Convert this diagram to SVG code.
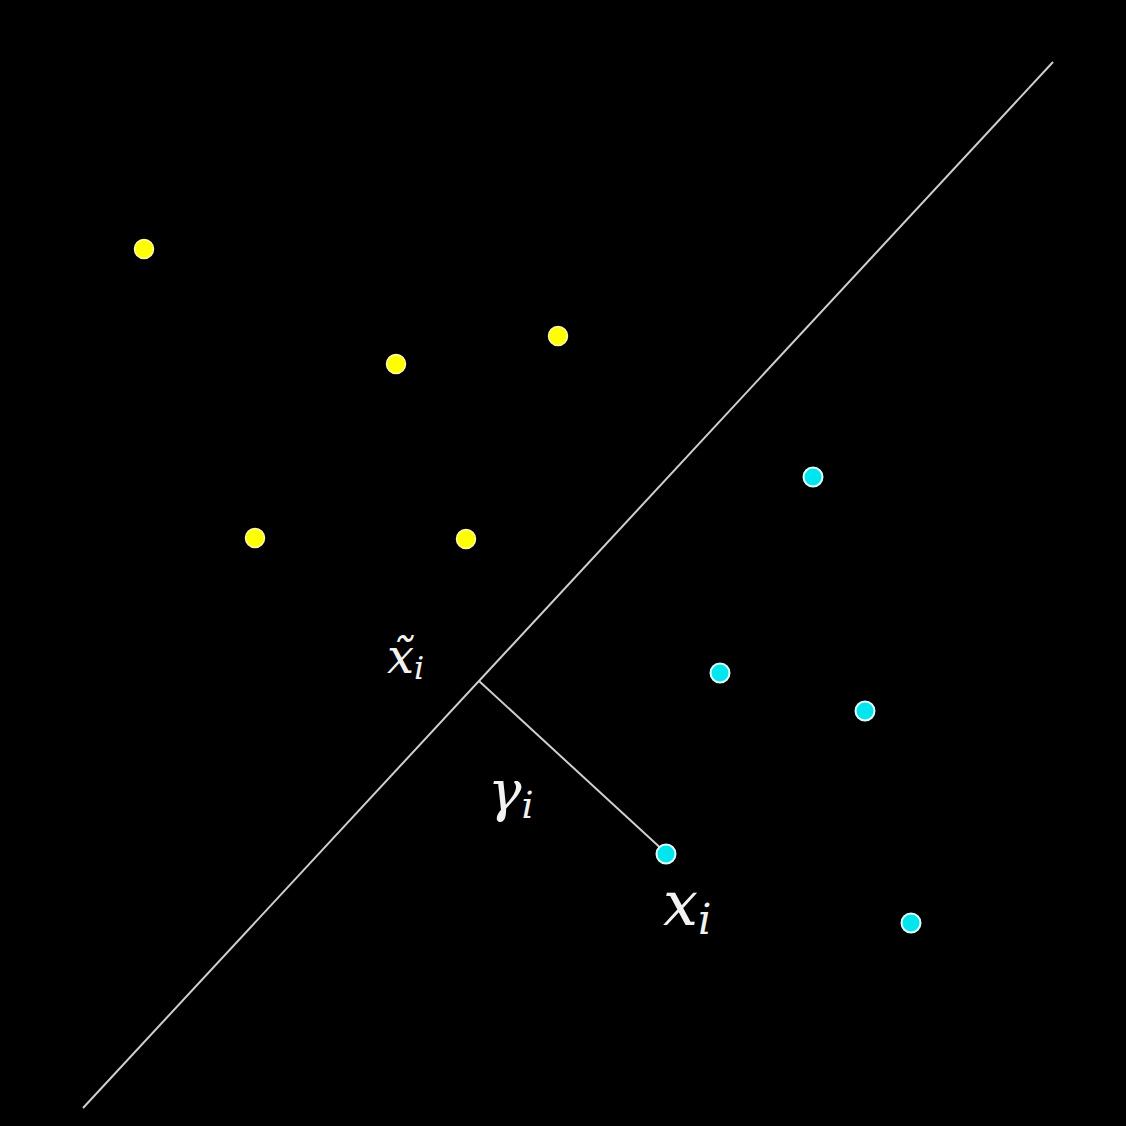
<svg xmlns="http://www.w3.org/2000/svg" width="1126" height="1126" viewBox="0 0 1126 1126">
<style>
.ln{stroke:#cfcfcf;stroke-width:2;fill:none}
.y{fill:#ffff00;stroke:#fff8b0;stroke-width:1.5}
.c{fill:#00e5ee;stroke:#e0ffff;stroke-width:2}
.t{fill:#f2f2f2;font-family:'DejaVu Serif','Liberation Serif',serif;font-style:italic}
</style>
<rect width="1126" height="1126" fill="#000"/>
<g id="connectors">
<line class="ln" x1="83" y1="1108" x2="1053" y2="62"/>
<line class="ln" x1="479" y1="681" x2="666" y2="853"/>
</g>
<g id="yellow-points">
<circle id="y1" class="y" cx="144" cy="249" r="9.5"/>
<circle id="y2" class="y" cx="396" cy="364" r="9.5"/>
<circle id="y3" class="y" cx="558" cy="336" r="9.5"/>
<circle id="y4" class="y" cx="255" cy="538" r="9.5"/>
<circle id="y5" class="y" cx="466" cy="539" r="9.5"/>
</g>
<g id="cyan-points">
<circle id="c1" class="c" cx="813" cy="477" r="9.5"/>
<circle id="c2" class="c" cx="720" cy="673" r="9.5"/>
<circle id="c3" class="c" cx="865" cy="711" r="9.5"/>
<circle id="c4" class="c" cx="666" cy="854" r="9.5"/>
<circle id="c5" class="c" cx="911" cy="923" r="9.5"/>
</g>
<g id="labels">
<text class="t" x="387" y="673" font-size="48">x̃<tspan font-size="32" dy="6">i</tspan></text>
<text class="t" x="488" y="810" font-size="56">γ<tspan font-size="38" dy="8">i</tspan></text>
<text class="t" x="663" y="925" font-size="62">x<tspan font-size="42" dy="9">i</tspan></text>
</g>
</svg>
